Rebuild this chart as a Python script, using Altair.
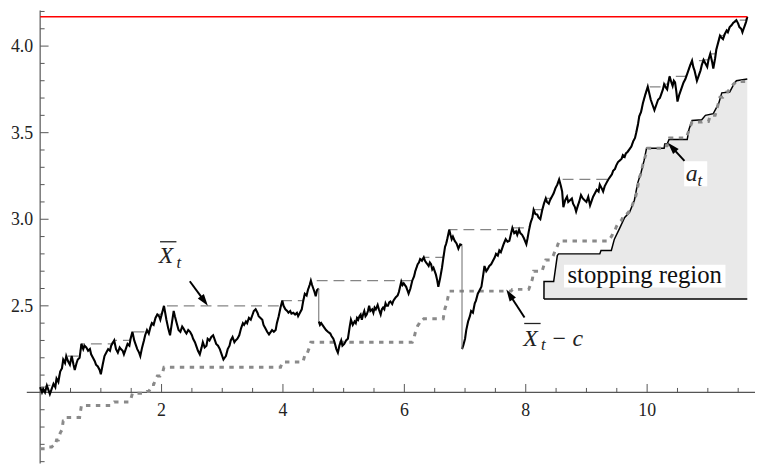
import math
import altair as alt
import pandas as pd

# ---------------- data ----------------
# path X_t, split at its two downward jumps: (t, X_t)
SEG0 = [(0.00,2.03),(0.03,2.00),(0.05,2.02),(0.08,2.00),(0.11,2.04),(0.14,2.01),(0.16,1.99),(0.19,2.02),
        (0.22,2.05),(0.25,2.03),(0.27,2.08),(0.30,2.06),(0.33,2.12),(0.36,2.14),(0.38,2.19),(0.41,2.17),
        (0.43,2.21),(0.46,2.18),(0.49,2.16),(0.52,2.21),(0.55,2.16),(0.57,2.13),(0.60,2.17),(0.62,2.19),
        (0.65,2.20),(0.68,2.28),(0.71,2.25),(0.73,2.27),(0.76,2.26),(0.79,2.24),(0.82,2.25),(0.84,2.22),
        (0.87,2.20),(0.90,2.18),(0.92,2.16),(0.95,2.15),(0.98,2.13),(1.00,2.105),(1.03,2.16),(1.06,2.21),
        (1.09,2.23),(1.12,2.25),(1.15,2.24),(1.17,2.27),(1.22,2.30),(1.25,2.25),(1.28,2.23),(1.31,2.26),
        (1.33,2.25),(1.36,2.24),(1.38,2.22),(1.41,2.25),(1.44,2.28),(1.47,2.27),(1.49,2.31),(1.52,2.35),
        (1.55,2.30),(1.58,2.27),(1.60,2.25),(1.63,2.23),(1.65,2.21),(1.68,2.26),(1.71,2.30),(1.73,2.33),
        (1.76,2.36),(1.79,2.34),(1.82,2.38),(1.84,2.40),(1.87,2.39),(1.90,2.43),(1.93,2.45),(1.96,2.44),
        (1.98,2.42),(2.01,2.46),(2.04,2.50),(2.06,2.46),(2.08,2.42),(2.11,2.37),(2.14,2.33),(2.17,2.40),
        (2.20,2.47),(2.22,2.44),(2.25,2.40),(2.28,2.36),(2.31,2.35),(2.34,2.38),(2.36,2.37),(2.39,2.35),
        (2.41,2.34),(2.44,2.36),(2.47,2.35),(2.50,2.33),(2.52,2.31),(2.55,2.29),(2.58,2.26),(2.60,2.24),
        (2.63,2.22),(2.66,2.26),(2.68,2.29),(2.71,2.26),(2.74,2.27),(2.76,2.31),(2.79,2.30),(2.82,2.32),
        (2.85,2.33),(2.88,2.30),(2.90,2.28),(2.93,2.27),(2.96,2.25),(2.99,2.22),(3.02,2.19),(3.04,2.20),
        (3.06,2.21),(3.09,2.25),(3.12,2.27),(3.14,2.30),(3.17,2.32),(3.20,2.29),(3.22,2.30),(3.25,2.31),
        (3.28,2.33),(3.31,2.37),(3.34,2.40),(3.36,2.39),(3.39,2.41),(3.41,2.40),(3.44,2.43),(3.47,2.42),
        (3.50,2.45),(3.52,2.47),(3.55,2.48),(3.58,2.46),(3.60,2.44),(3.63,2.43),(3.66,2.42),(3.68,2.39),
        (3.71,2.37),(3.74,2.35),(3.77,2.335),(3.80,2.35),(3.82,2.36),(3.85,2.35),(3.88,2.36),(3.90,2.40),
        (3.93,2.44),(3.96,2.49),(3.99,2.53),(4.01,2.50),(4.04,2.48),(4.07,2.47),(4.09,2.46),(4.12,2.47),
        (4.14,2.455),(4.17,2.46),(4.20,2.45),(4.23,2.46),(4.25,2.44),(4.28,2.46),(4.31,2.48),(4.33,2.52),
        (4.36,2.57),(4.39,2.56),(4.41,2.59),(4.44,2.62),(4.46,2.645),(4.48,2.62),(4.50,2.60),(4.52,2.58),
        (4.54,2.555),(4.56,2.59),(4.59,2.60)]
SEG1 = [(4.59,2.41),(4.61,2.39),(4.63,2.40),(4.67,2.38),(4.69,2.37),(4.71,2.36),(4.74,2.35),(4.76,2.345),
        (4.78,2.34),(4.80,2.326),(4.83,2.31),(4.85,2.29),(4.88,2.25),(4.905,2.23),(4.93,2.27),(4.96,2.30),
        (4.98,2.27),(5.01,2.28),(5.04,2.30),(5.07,2.31),(5.10,2.38),(5.12,2.42),(5.15,2.39),(5.18,2.41),
        (5.20,2.40),(5.22,2.43),(5.24,2.42),(5.26,2.44),(5.28,2.45),(5.30,2.42),(5.32,2.45),(5.34,2.47),
        (5.36,2.44),(5.38,2.45),(5.40,2.47),(5.42,2.50),(5.44,2.47),(5.47,2.48),(5.49,2.46),(5.51,2.49),
        (5.53,2.48),(5.56,2.505),(5.58,2.48),(5.61,2.45),(5.63,2.48),(5.65,2.49),(5.67,2.48),(5.69,2.515),
        (5.71,2.50),(5.73,2.50),(5.75,2.52),(5.77,2.525),(5.80,2.51),(5.82,2.53),(5.84,2.54),(5.86,2.55),
        (5.89,2.56),(5.91,2.58),(5.93,2.61),(5.95,2.64),(5.97,2.62),(5.99,2.63),(6.01,2.62),(6.03,2.61),
        (6.05,2.59),(6.07,2.57),(6.10,2.60),(6.13,2.645),(6.16,2.67),(6.18,2.70),(6.20,2.72),(6.22,2.74),
        (6.24,2.75),(6.26,2.77),(6.29,2.76),(6.32,2.78),(6.34,2.76),(6.36,2.75),(6.38,2.74),(6.40,2.73),
        (6.42,2.75),(6.44,2.74),(6.46,2.71),(6.48,2.72),(6.50,2.70),(6.52,2.68),(6.54,2.65),(6.56,2.61),
        (6.59,2.66),(6.62,2.72),(6.64,2.77),(6.67,2.84),(6.69,2.86),(6.71,2.89),(6.74,2.94),(6.76,2.91),
        (6.78,2.885),(6.80,2.90),(6.83,2.875),(6.86,2.86),(6.89,2.83),(6.92,2.855),(6.95,2.85)]
SEG2 = [(6.95,2.25),(6.97,2.27),(7.00,2.31),(7.02,2.36),(7.05,2.41),(7.08,2.44),(7.10,2.47),(7.13,2.46),
        (7.16,2.515),(7.18,2.53),(7.21,2.57),(7.24,2.59),(7.27,2.61),(7.30,2.68),(7.32,2.73),(7.35,2.70),
        (7.37,2.71),(7.40,2.73),(7.43,2.74),(7.46,2.76),(7.49,2.78),(7.51,2.80),(7.54,2.79),(7.565,2.82),
        (7.59,2.81),(7.62,2.84),(7.64,2.86),(7.67,2.885),(7.70,2.87),(7.73,2.875),(7.76,2.92),(7.78,2.95),
        (7.81,2.92),(7.84,2.93),(7.86,2.91),(7.89,2.94),(7.91,2.92),(7.94,2.91),(7.97,2.89),(8.01,2.856),
        (8.03,2.89),(8.05,2.93),(8.08,2.98),(8.11,3.01),(8.13,3.055),(8.16,3.03),(8.19,3.027),(8.21,3.01),
        (8.24,3.00),(8.27,3.05),(8.30,3.09),(8.33,3.12),(8.35,3.10),(8.38,3.09),(8.40,3.11),(8.43,3.13),
        (8.46,3.15),(8.49,3.18),(8.52,3.20),(8.55,3.23),(8.58,3.19),(8.60,3.16),(8.62,3.07),(8.65,3.11),
        (8.68,3.13),(8.70,3.10),(8.73,3.11),(8.76,3.12),(8.78,3.09),(8.81,3.07),(8.83,3.045),(8.86,3.08),
        (8.88,3.10),(8.91,3.14),(8.94,3.12),(8.97,3.11),(9.00,3.10),(9.03,3.13),(9.06,3.08),(9.09,3.11),
        (9.11,3.13),(9.14,3.15),(9.17,3.17),(9.20,3.16),(9.22,3.20),(9.25,3.18),(9.275,3.16),(9.30,3.19),
        (9.33,3.21),(9.36,3.23),(9.39,3.245),(9.42,3.26),(9.44,3.28),(9.47,3.29),(9.49,3.31),(9.52,3.33),
        (9.55,3.34),(9.58,3.35),(9.60,3.37),(9.63,3.36),(9.65,3.38),(9.68,3.39),(9.71,3.405),(9.74,3.42),
        (9.77,3.45),(9.80,3.47),(9.82,3.50),(9.85,3.55),(9.87,3.595),(9.90,3.62),(9.93,3.67),(9.97,3.72),
        (10.01,3.765),(10.04,3.72),(10.06,3.69),(10.09,3.66),(10.12,3.63),(10.15,3.66),(10.18,3.69),
        (10.21,3.70),(10.23,3.72),(10.26,3.75),(10.28,3.78),(10.31,3.76),(10.33,3.75),(10.35,3.79),
        (10.37,3.825),(10.40,3.79),(10.42,3.77),(10.44,3.80),(10.46,3.79),(10.48,3.74),(10.50,3.68),
        (10.53,3.72),(10.55,3.74),(10.58,3.77),(10.60,3.79),(10.63,3.81),(10.66,3.84),(10.69,3.87),
        (10.71,3.89),(10.74,3.916),(10.76,3.88),(10.78,3.86),(10.80,3.83),(10.82,3.80),(10.85,3.83),
        (10.88,3.86),(10.90,3.89),(10.93,3.92),(10.96,3.90),(10.99,3.88),(11.01,3.92),(11.04,3.955),
        (11.07,3.91),(11.09,3.87),(11.12,3.93),(11.14,3.98),(11.17,4.02),(11.20,4.06),(11.22,4.05),
        (11.25,4.04),(11.28,4.07),(11.31,4.09),(11.33,4.08),(11.36,4.11),(11.39,4.12),(11.42,4.135),
        (11.44,4.14),(11.47,4.15),(11.50,4.13),(11.52,4.11),(11.55,4.10),(11.57,4.08),(11.59,4.10),
        (11.61,4.12),(11.63,4.14),(11.65,4.17)]

# the two jumps (vertical thin lines)
JUMP_T = [4.59, 6.95]
JUMP_HI = [2.60, 2.85]
JUMP_LO = [2.41, 2.25]

C = 0.355          # X̄_t - c offset
BARRIER = 4.17     # red level
T_END = 11.65

# boundary a_t of the stopping region
AT_T = [8.30, 8.301, 8.46, 8.52, 8.54, 9.22, 9.24, 9.41, 9.46, 9.55, 9.63, 9.71, 9.79, 9.845, 9.90,
        9.95, 9.99, 10.28, 10.29, 10.33, 10.36, 10.66, 10.69, 10.74, 10.90, 10.96, 11.09, 11.18,
        11.23, 11.36, 11.42, 11.47, 11.65]
AT_Y = [2.54, 2.64, 2.64, 2.79, 2.80, 2.80, 2.82, 2.82, 2.885, 2.95, 3.01, 3.04, 3.11, 3.21, 3.27,
        3.34, 3.41, 3.41, 3.435, 3.435, 3.46, 3.46, 3.52, 3.57, 3.575, 3.60, 3.61, 3.67,
        3.73, 3.735, 3.775, 3.80, 3.81]
REGION_FLOOR = 2.54

X_MAJOR = [2, 4, 6, 8, 10]
X_LABELS = ["2", "4", "6", "8", "10"]
X_MINOR = [0.5, 1, 1.5, 2.5, 3, 3.5, 4.5, 5, 5.5, 6.5, 7, 7.5, 8.5, 9, 9.5, 10.5, 11, 11.5]
Y_MAJOR = [2.5, 3.0, 3.5, 4.0]
Y_LABELS = ["2.5", "3.0", "3.5", "4.0"]
Y_MINOR = [1.6, 1.7, 1.8, 1.9, 2.1, 2.2, 2.3, 2.4, 2.6, 2.7, 2.8, 2.9, 3.1, 3.2, 3.3, 3.4,
           3.6, 3.7, 3.8, 3.9, 4.1, 4.2]

# ---------------- layout ----------------
W, H = 736, 458
XDOM = [-0.22, 11.777]
YDOM = [1.589, 4.206]
PX_X = W / (XDOM[1] - XDOM[0])
PX_Y = H / (YDOM[1] - YDOM[0])
SERIF = "Liberation Serif"
AX = "#555555"

xs = alt.Scale(domain=XDOM, nice=False, zero=False)
ys = alt.Scale(domain=YDOM, nice=False, zero=False)


def X(f):
    return alt.X(f, type="quantitative", scale=xs, axis=None)


def Y(f):
    return alt.Y(f, type="quantitative", scale=ys, axis=None)


rows = []
for s, seg in enumerate([SEG0, SEG1, SEG2]):
    for t, x in seg:
        rows.append({"t": t, "x": x, "seg": s})
path_df = pd.DataFrame(rows)
path_df["i"] = range(len(path_df))

# ---------------- axes (drawn at the origin, ticks pointing inward) ----------------
axis_lines = pd.DataFrame({"x1": [XDOM[0], 0.0], "x2": [XDOM[1], 0.0],
                           "y1": [2.0, YDOM[0]], "y2": [2.0, YDOM[1]]})
axes = alt.Chart(axis_lines).mark_rule(color=AX, strokeWidth=1.2).encode(
    x=X("x1"), x2="x2", y=Y("y1"), y2="y2")

MAJ, MIN = 8.5, 4.5
xt = pd.DataFrame({"v": X_MAJOR + X_MINOR,
                   "len": [MAJ] * len(X_MAJOR) + [MIN] * len(X_MINOR)})
xt["y0"] = 2.0
xt["y1"] = 2.0 + xt["len"] / PX_Y
xticks = alt.Chart(xt).mark_rule(color=AX, strokeWidth=1).encode(x=X("v"), y=Y("y0"), y2="y1")

yt = pd.DataFrame({"v": Y_MAJOR + Y_MINOR,
                   "len": [MAJ] * len(Y_MAJOR) + [MIN] * len(Y_MINOR)})
yt["x0"] = 0.0
yt["x1"] = yt["len"] / PX_X
yticks = alt.Chart(yt).mark_rule(color=AX, strokeWidth=1).encode(y=Y("v"), x=X("x0"), x2="x1")

xl = pd.DataFrame({"v": X_MAJOR, "lab": X_LABELS, "y": 2.0})
xlabels = alt.Chart(xl).mark_text(font=SERIF, fontSize=18, color="#222", baseline="alphabetic",
                                  align="center", dy=24).encode(x=X("v"), y=Y("y"), text="lab")
yl = pd.DataFrame({"v": Y_MAJOR, "lab": Y_LABELS, "x": 0.0})
ylabels = alt.Chart(yl).mark_text(font=SERIF, fontSize=18, color="#222", baseline="alphabetic",
                                  align="right", dx=-7, dy=6).encode(x=X("x"), y=Y("v"), text="lab")

# ---------------- stopping region ----------------
at_df = pd.DataFrame({"t": AT_T, "a": AT_Y})
at_df["i"] = range(len(at_df))
at_df["lo"] = REGION_FLOOR
region = alt.Chart(at_df).mark_area(fill="#e9e9e9", fillOpacity=1, interpolate="linear").encode(
    x=X("t"), y=Y("a"), y2=alt.Y2("lo"))
at_line = alt.Chart(at_df).mark_line(color="black", strokeWidth=1.5).encode(
    x=X("t"), y=Y("a"), order="i:Q")
floor_df = pd.DataFrame({"t1": [AT_T[0]], "t2": [T_END], "y": [REGION_FLOOR]})
floor = alt.Chart(floor_df).mark_rule(color="black", strokeWidth=1.5).encode(
    x=X("t1"), x2="t2", y=Y("y"))

box_df = pd.DataFrame({"t1": [8.63], "t2": [11.29], "y1": [2.606], "y2": [2.737]})
box = alt.Chart(box_df).mark_rect(color="white").encode(x=X("t1"), x2="t2", y=Y("y1"), y2="y2")
abox_df = pd.DataFrame({"t1": [10.61], "t2": [10.99], "y1": [3.19], "y2": [3.335]})
abox = alt.Chart(abox_df).mark_rect(color="white").encode(x=X("t1"), x2="t2", y=Y("y1"), y2="y2")

# ---------------- running max and running max - c ----------------
base_max = alt.Chart(path_df).transform_window(
    m="max(x)", frame=[None, 0], sort=[alt.SortField("i")]
).transform_calculate(d=f"datum.m - {C}")
dashed = base_max.mark_line(color="#858585", strokeWidth=1.3, strokeDash=[11, 6]).encode(
    x=X("t"), y=Y("m"), order="i:Q")
dotted = base_max.mark_line(color="#8a8a8a", strokeWidth=3, strokeDash=[4.5, 5.5]).encode(
    x=X("t"), y=Y("d"), order="i:Q")

path = alt.Chart(path_df).mark_line(color="black", strokeWidth=2.1).encode(
    x=X("t"), y=Y("x"), detail="seg:N", order="i:Q")
jump_df = pd.DataFrame({"t": JUMP_T, "hi": JUMP_HI, "lo": JUMP_LO})
jumps = alt.Chart(jump_df).mark_rule(color="#777", strokeWidth=1.1).encode(
    x=X("t"), y=Y("hi"), y2="lo")

red_df = pd.DataFrame({"t1": [0.0], "t2": [T_END], "y": [BARRIER]})
red = alt.Chart(red_df).mark_rule(color="#ff0000", strokeWidth=1.5).encode(
    x=X("t1"), x2="t2", y=Y("y"))

# ---------------- annotations ----------------
ital_df = pd.DataFrame({
    "t": [1.955, 2.245, 7.96, 8.25, 8.41, 10.635, 10.83],
    "y": [2.749, 2.72, 2.269, 2.246, 2.269, 3.223, 3.194],
    "txt": ["X", "t", "X", "t", "\u2212 c", "a", "t"],
    "s": [24, 17, 24, 17, 24, 24, 17],
})
ital = alt.Chart(ital_df).mark_text(font=SERIF, fontStyle="italic", align="left",
                                    baseline="alphabetic", color="#222").encode(
    x=X("t"), y=Y("y"), text="txt", size=alt.Size("s:Q", scale=None, legend=None))
bars_df = pd.DataFrame({"t1": [1.975, 7.975], "t2": [2.245, 8.245], "y": [2.870, 2.398]})
bars = alt.Chart(bars_df).mark_rule(color="#222", strokeWidth=1.3).encode(
    x=X("t1"), x2="t2", y=Y("y"))
stop_df = pd.DataFrame({"t": [9.96], "y": [2.633], "txt": ["stopping region"]})
stop_txt = alt.Chart(stop_df).mark_text(font=SERIF, fontSize=25, align="center",
                                        baseline="alphabetic", color="#111").encode(
    x=X("t"), y=Y("y"), text="txt")

ARROWS = [((2.465, 2.642), (2.763, 2.50)),
          ((7.98, 2.433), (7.68, 2.594)),
          ((10.615, 3.337), (10.342, 3.442))]
shaft_rows, head_rows = [], []
for (t0, y0), (t1, y1) in ARROWS:
    dx = (t1 - t0) * PX_X
    dy = -(y1 - y0) * PX_Y
    L = math.hypot(dx, dy)
    ux, uy = dx / L, dy / L
    bt = t1 - 9 * ux / PX_X
    by = y1 + 9 * uy / PX_Y
    shaft_rows.append({"t0": t0, "y0": y0, "t1": bt, "y1": by})
    head_rows.append({"t": t1, "y": y1, "ang": math.degrees(math.atan2(ux, -uy)) % 360})
shafts = alt.Chart(pd.DataFrame(shaft_rows)).mark_rule(color="black", strokeWidth=2).encode(
    x=X("t0"), x2="t1", y=Y("y0"), y2="y1")
heads = alt.Chart(pd.DataFrame(head_rows)).mark_point(
    shape="M0,0L-0.38,1.2L0.38,1.2Z", filled=True, size=400, color="black", opacity=1,
    strokeWidth=0).encode(x=X("t"), y=Y("y"), angle=alt.Angle("ang:Q", scale=None))

chart = alt.layer(
    region, box, abox, axes, xticks, yticks, xlabels, ylabels,
    at_line, floor, dotted, dashed, path, jumps, red,
    ital, bars, stop_txt, shafts, heads,
).properties(
    width=W, height=H,
    autosize=alt.AutoSizeParams(type="none"),
    padding={"left": 19, "top": 0, "right": 0, "bottom": 0},
).configure_view(stroke=None)

chart.save("out.html", embed_options={"renderer": "svg", "actions": False})
